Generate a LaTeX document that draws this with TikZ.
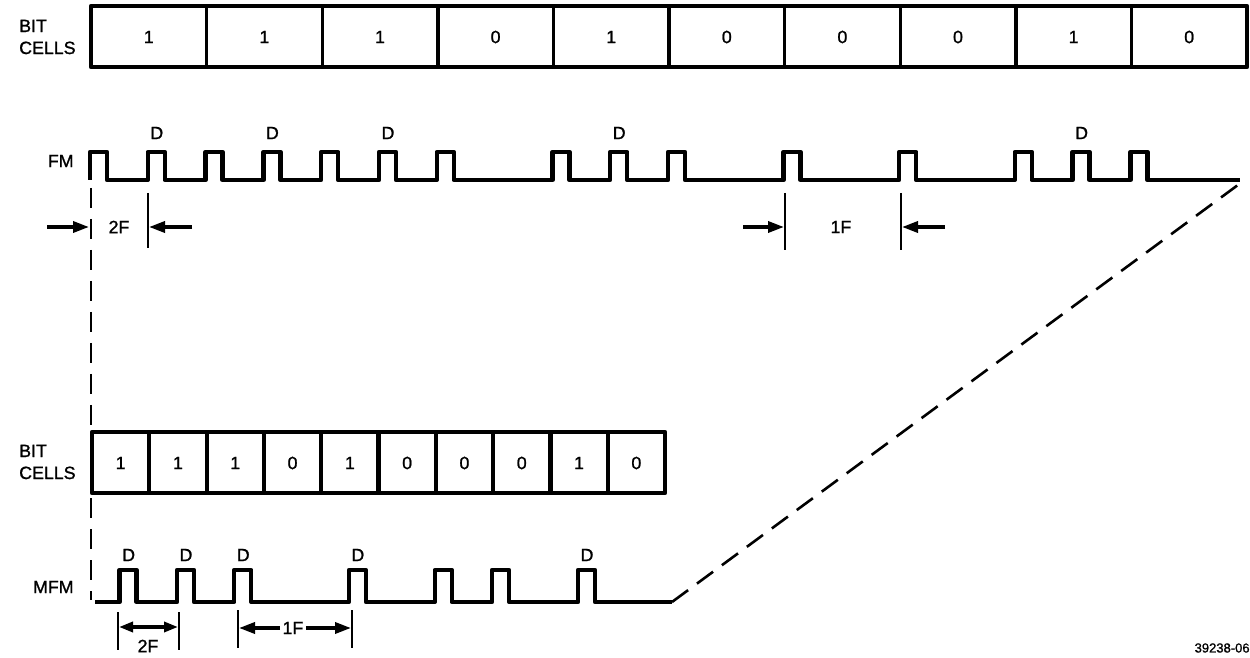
\documentclass[tikz,border=0pt]{standalone}
\usepackage{fontspec}
\setmainfont{Liberation Sans}[FakeBold=1.2]
\usetikzlibrary{arrows.meta}
\begin{document}
\begin{tikzpicture}[x=0.5pt,y=-0.5pt,
  txt/.style={font=\fontsize{8.9}{11}\selectfont, inner sep=0pt},
  lbl/.style={txt, align=left, anchor=east},
  boxline/.style={line width=2.4pt, line join=round},
  divline/.style={line width=1.7pt},
  divlineb/.style={line width=2.1pt},
  wave/.style={line width=2.2pt, line join=round},
  guide/.style={line width=1.3pt, dash pattern=on 10pt off 5.5pt},
  tick/.style={line width=1.4pt},
  arr/.style={line width=1.7pt, -{Triangle[length=8pt,width=5.5pt]}},
  darr/.style={line width=1.7pt, {Triangle[length=7pt,width=5pt]}-{Triangle[length=7pt,width=5pt]}}
]
\useasboundingbox (0,0) rectangle (1250,658);

% ---------- top bit cells ----------
\node[lbl] (topbit) at (76,37) {BIT\\CELLS};
\draw[boxline] (91,6) rectangle (1247,67);
\foreach \k in {1,...,9} \draw[divline] (91+115.6*\k,6) -- (91+115.6*\k,67);
\foreach \b [count=\k from 0] in {1,1,1,0,1,0,0,0,1,0}
  \node[txt] (tc\k) at (91+115.6*\k+57.8,37) {\b};

% ---------- FM waveform ----------
\node[lbl] (fmlbl) at (74,161) {FM};
\draw[wave] (90,180)
  \foreach \p in {91,148.8,206.6,264.4,322.2,380,437.8,553.4,611.2,669,784.6,900.2,1015.8,1073.6,1131.4}
  { -- (\p-1,180) -- (\p-1,152) -- (\p+16,152) -- (\p+16,180) } -- (1240,180);
\foreach \p [count=\i] in {148.8,264.4,380,611.2,1073.6}
  \node[txt] (fd\i) at (\p+8,133) {D};

% ---------- dashed guides ----------
\coordinate (gtop) at (91,188);
\coordinate (gbot) at (91,600);
\coordinate (mfmend) at (672,602);
\coordinate (fmend) at (1242,182);
\draw[guide] (gtop) -- (gbot);
\draw[guide] (mfmend) -- (fmend);

% ---------- FM 2F / 1F ----------
\coordinate (a2s) at (47,227);
\coordinate (a2e) at (89,227);
\coordinate (t2a) at (148,193);
\coordinate (t2b) at (148,248);
\coordinate (a2r) at (192,227);
\coordinate (a2re) at (149,227);
\draw[arr] (a2s) -- (a2e);
\draw[tick] (t2a) -- (t2b);
\draw[arr] (a2r) -- (a2re);
\node[txt] (fm2f) at (119,227) {2F};

\coordinate (t1a) at (785,193);
\coordinate (t1b) at (785,250);
\coordinate (t1c) at (901,193);
\coordinate (t1d) at (901,250);
\coordinate (a1s) at (743,227);
\coordinate (a1e) at (784,227);
\coordinate (a1r) at (945,227);
\coordinate (a1re) at (902,227);
\draw[tick] (t1a) -- (t1b);
\draw[tick] (t1c) -- (t1d);
\draw[arr] (a1s) -- (a1e);
\draw[arr] (a1r) -- (a1re);
\node[txt] (fm1f) at (841,227) {1F};

% ---------- bottom bit cells ----------
\node[lbl] (botbit) at (76,462) {BIT\\CELLS};
\draw[boxline] (92,432) rectangle (665,493);
\foreach \k in {1,...,9} \draw[divlineb] (92+57.3*\k,432) -- (92+57.3*\k,493);
\foreach \b [count=\k from 0] in {1,1,1,0,1,0,0,0,1,0}
  \node[txt] (bc\k) at (92+57.3*\k+28.65,463) {\b};

% ---------- MFM waveform ----------
\node[lbl] (mfmlbl) at (74,587) {MFM};
\draw[wave] (95,602)
  \foreach \p in {120.65,178,235.25,349.85,435.8,493.1,579.05}
  { -- (\p-1,602) -- (\p-1,570) -- (\p+16,570) -- (\p+16,602) } -- (mfmend);
\foreach \p [count=\i] in {120.65,178,235.25,349.85,579.05}
  \node[txt] (md\i) at (\p+8,555) {D};

% ---------- MFM 2F / 1F ----------
\coordinate (m2a) at (118,612);
\coordinate (m2b) at (118,650);
\coordinate (m2c) at (179,612);
\coordinate (m2d) at (179,650);
\draw[tick] (m2a) -- (m2b);
\draw[tick] (m2c) -- (m2d);
\coordinate (m2l) at (119,627);
\coordinate (m2r) at (178,627);
\draw[darr] (m2l) -- (m2r);
\node[txt] (mfm2f) at (148,646) {2F};

\coordinate (m1a) at (238,610);
\coordinate (m1b) at (238,648);
\coordinate (m1c) at (352,610);
\coordinate (m1d) at (352,648);
\draw[tick] (m1a) -- (m1b);
\draw[tick] (m1c) -- (m1d);
\node[txt] (mfm1f) at (293,628) {1F};
\coordinate (m1l) at (239,628);
\coordinate (m1r) at (351,628);
\draw[arr] (mfm1f.west) ++(-2,0) -- (m1l);
\draw[arr] (mfm1f.east) ++(2,0) -- (m1r);

% ---------- figure number ----------
\node[txt, font=\fontsize{6.5}{8}\selectfont, anchor=east] (fignum) at (1250,648) {39238-06};
\end{tikzpicture}
\end{document}
